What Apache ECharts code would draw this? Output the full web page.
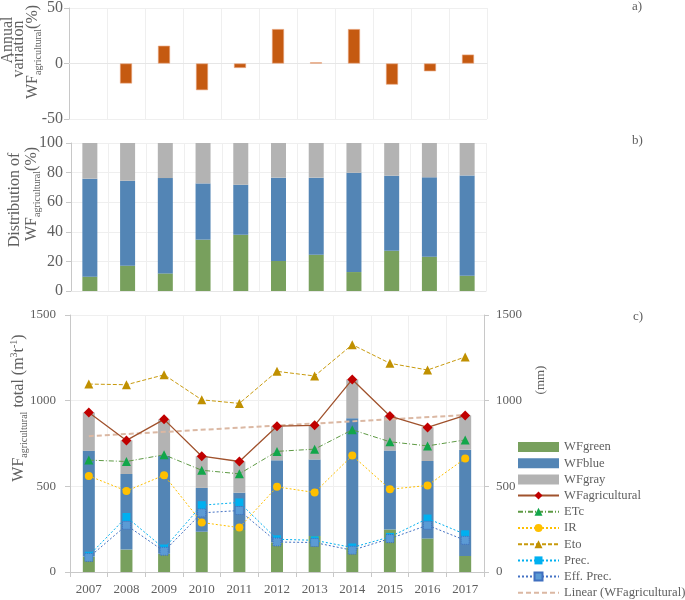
<!DOCTYPE html>
<html>
<head>
<meta charset="utf-8">
<script src="https://cdn.jsdelivr.net/npm/echarts@6/dist/echarts.min.js"></script>
<style>html,body{margin:0;padding:0;background:#fff;}#c{width:685px;height:600px;}</style>
</head>
<body>
<div id="c"></div>
<script>
// ---- data ----
const years = ['2007','2008','2009','2010','2011','2012','2013','2014','2015','2016','2017'];
// panel a: annual variation of WF agricultural (%)
const annualVariation = [null, -18, 16, -24, -4, 31, 1, 31, -19, -7, 8];
// panel b: distribution (%)
const distGreen = [9.7, 17.1, 11.9, 34.7, 38.0, 20.3, 24.5, 12.8, 27.2, 23.2, 10.3];
const distBlue  = [66.2, 57.4, 64.4, 38.0, 33.8, 56.3, 52.1, 67.1, 50.7, 53.6, 67.8];
const distGray  = [24.1, 25.5, 23.7, 27.3, 28.2, 23.4, 23.4, 20.1, 22.1, 23.2, 21.9];
// panel c: absolute values (m3/t and mm)
const wfGreen = [90, 131, 106, 235, 245, 173, 210, 144, 248, 196, 94];
const wfBlue  = [617, 441, 574, 256, 218, 479, 446, 754, 461, 452, 620];
const wfGray  = [224, 196, 211, 185, 182, 199, 200, 226, 201, 196, 200];
const wfAgri  = [931, 768, 891, 676, 645, 851, 856, 1124, 910, 844, 914];
const etc     = [653, 645, 684, 594, 573, 704, 717, 830, 760, 736, 771];
const ir      = [561, 473, 565, 289, 259, 497, 464, 680, 483, 505, 663];
const eto     = [1097, 1093, 1151, 1005, 984, 1171, 1144, 1327, 1218, 1179, 1255];
const prec    = [95, 321, 137, 390, 406, 191, 185, 143, 205, 312, 220];
const effPrec = [85, 273, 121, 345, 359, 175, 172, 127, 195, 273, 185];
const linearTrend = [793, null, null, null, null, null, null, null, null, null, 916];

// ---- styles ----
const FONT = 'Liberation Serif, DejaVu Serif, serif';
const TXT = '#606060';
const AX = '#c8c8c8';
const GRID = '#efefef';
const cGreen = '#78a05d', cBlue = '#5385b5', cGray = '#b3b3b3';

const chart = echarts.init(document.getElementById('c'));

function catAxis(gi, showLabel) {
  return {
    type: 'category', gridIndex: gi, data: years, boundaryGap: true,
    axisLine: { show: true, lineStyle: { color: gi === 2 ? AX : '#e6e6e6' } },
    axisTick: { show: gi === 2, length: 5, lineStyle: { color: AX } },
    axisLabel: { show: showLabel, fontFamily: FONT, fontSize: 13, color: TXT, margin: 11 },
    splitLine: { show: true, lineStyle: { color: GRID } }
  };
}
function valAxis(gi, min, max, interval, fs, margin, pos, split) {
  return {
    type: 'value', gridIndex: gi, min: min, max: max, interval: interval, position: pos || 'left',
    axisLine: { show: true, lineStyle: { color: AX } },
    axisTick: { show: true, length: 5, lineStyle: { color: AX } },
    axisLabel: { fontFamily: FONT, fontSize: fs, color: TXT, margin: margin, formatter: function (v) { return String(v); } },
    splitLine: { show: split !== false, lineStyle: { color: GRID } }
  };
}

const richStyles = {
  b: { fontFamily: FONT, fontSize: 16, fill: TXT, color: TXT, lineHeight: 20 },
  sub: { fontFamily: FONT, fontSize: 10, fill: TXT, color: TXT, lineHeight: 6, verticalAlign: 'bottom' },
  sup: { fontFamily: FONT, fontSize: 10, fill: TXT, color: TXT, lineHeight: 10, verticalAlign: 'top' }
};
function rotText(x, y, text, size) {
  return {
    type: 'text', x: x, y: y, rotation: Math.PI / 2,
    style: { text: text, rich: richStyles, fill: TXT, fontFamily: FONT, fontSize: size || 16, align: 'center', verticalAlign: 'middle' }
  };
}
function plainText(x, y, text, size) {
  return { type: 'text', x: x, y: y, style: { text: text, fill: TXT, fontFamily: FONT, fontSize: size, align: 'left', verticalAlign: 'middle' } };
}

const option = {
  animation: false,
  backgroundColor: '#fff',
  textStyle: { fontFamily: FONT },
  grid: [
    { left: 69, top: 7, width: 418, height: 112 },
    { left: 71, top: 143, width: 415, height: 148 },
    { left: 70, top: 315, width: 414, height: 257 }
  ],
  xAxis: [catAxis(0, false), catAxis(1, false), catAxis(2, true)],
  yAxis: [
    valAxis(0, -50, 50, 50, 16, 6),
    valAxis(1, 0, 100, 20, 16, 8),
    valAxis(2, 0, 1500, 500, 13, 14),
    valAxis(2, 0, 1500, 500, 13, 12, 'right', false)
  ],
  legend: {
    orient: 'vertical', left: 517, top: 440.5, padding: 0, itemWidth: 41, itemHeight: 10, itemGap: 3.2,
    textStyle: { fontFamily: FONT, fontSize: 12.6, color: TXT, lineHeight: 13 },
    data: [{ name: 'WFgreen', icon: 'rect' }, { name: 'WFblue', icon: 'rect' }, { name: 'WFgray', icon: 'rect' },
      'WFagricultural', 'ETc', 'IR', 'Eto', 'Prec.', 'Eff. Prec.', 'Linear (WFagricultural)']
  },
  graphic: [
    rotText(8, 40, 'Annual'),
    rotText(19, 49, 'variation'),
    rotText(33, 52, '{b|WF}{sub|agricultural}{b|(%)}'),
    rotText(15, 200, 'Distribution of'),
    rotText(32, 194, '{b|WF}{sub|agricultural}{b|(%)}'),
    rotText(19, 408, '{b|WF}{sub|agricultural}{b| total (m}{sup|3}{b|t}{sup|-1}{b|)}'),
    rotText(541, 380, '(mm)', 13),
    plainText(632, 7, 'a)', 13),
    plainText(632, 141, 'b)', 13),
    plainText(633, 317, 'c)', 13)
  ],
  series: [
    { name: 'Annual variation', type: 'bar', xAxisIndex: 0, yAxisIndex: 0, data: annualVariation, barWidth: 12,
      itemStyle: { color: '#c55a11', borderColor: '#e9a57e', borderWidth: 0.6 } },
    { name: 'dGreen', type: 'bar', stack: 'd', xAxisIndex: 1, yAxisIndex: 1, data: distGreen, barWidth: 15, itemStyle: { color: cGreen } },
    { name: 'dBlue', type: 'bar', stack: 'd', xAxisIndex: 1, yAxisIndex: 1, data: distBlue, barWidth: 15, itemStyle: { color: cBlue } },
    { name: 'dGray', type: 'bar', stack: 'd', xAxisIndex: 1, yAxisIndex: 1, data: distGray, barWidth: 15, itemStyle: { color: cGray } },
    { name: 'WFgreen', type: 'bar', stack: 'c', xAxisIndex: 2, yAxisIndex: 2, data: wfGreen, barWidth: 12, itemStyle: { color: cGreen } },
    { name: 'WFblue', type: 'bar', stack: 'c', xAxisIndex: 2, yAxisIndex: 2, data: wfBlue, barWidth: 12, itemStyle: { color: cBlue } },
    { name: 'WFgray', type: 'bar', stack: 'c', xAxisIndex: 2, yAxisIndex: 2, data: wfGray, barWidth: 12, itemStyle: { color: cGray } },
    { name: 'Linear (WFagricultural)', type: 'line', xAxisIndex: 2, yAxisIndex: 2, data: linearTrend, connectNulls: true,
      symbol: 'none', lineStyle: { color: '#dbb8a3', width: 2, type: [5, 3] },
      itemStyle: { color: 'rgba(0,0,0,0)', borderWidth: 0 }, z: 3 },
    { name: 'WFagricultural', type: 'line', xAxisIndex: 2, yAxisIndex: 2, data: wfAgri, symbol: 'diamond', symbolSize: 10,
      lineStyle: { color: '#a0522d', width: 1.3 }, itemStyle: { color: '#c00000' }, z: 5 },
    { name: 'ETc', type: 'line', xAxisIndex: 2, yAxisIndex: 3, data: etc, symbol: 'triangle', symbolSize: 9,
      lineStyle: { color: '#5e9a44', width: 1, type: [5, 2, 1, 2] }, itemStyle: { color: '#12a64a' }, z: 4 },
    { name: 'IR', type: 'line', xAxisIndex: 2, yAxisIndex: 3, data: ir, symbol: 'circle', symbolSize: 8,
      lineStyle: { color: '#ffc000', width: 1, type: [2, 2] }, itemStyle: { color: '#ffc000' }, z: 4 },
    { name: 'Eto', type: 'line', xAxisIndex: 2, yAxisIndex: 3, data: eto, symbol: 'triangle', symbolSize: 9,
      lineStyle: { color: '#c89a0c', width: 1, type: [4, 2] }, itemStyle: { color: '#c09000' }, z: 4 },
    { name: 'Prec.', type: 'line', xAxisIndex: 2, yAxisIndex: 3, data: prec, symbol: 'rect', symbolSize: 8,
      lineStyle: { color: '#00b0f0', width: 1, type: [2, 2] }, itemStyle: { color: '#00b0f0' }, z: 4 },
    { name: 'Eff. Prec.', type: 'line', xAxisIndex: 2, yAxisIndex: 3, data: effPrec, symbol: 'rect', symbolSize: 8,
      lineStyle: { color: '#4472c4', width: 1, type: [2, 2] },
      itemStyle: { color: '#5b9bd5', borderColor: '#3f6fbf', borderWidth: 1, borderType: 'dotted' }, z: 4 }
  ]
};
chart.setOption(option);
</script>
</body>
</html>
